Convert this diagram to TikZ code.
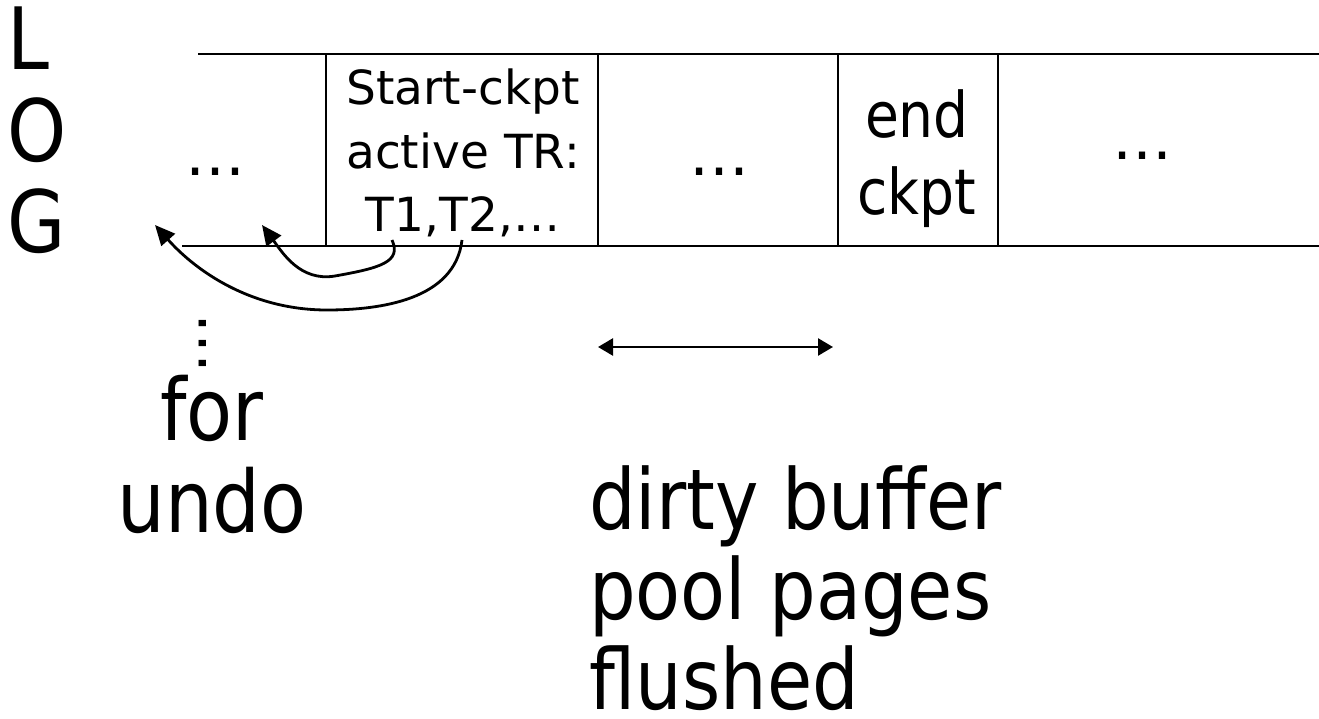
\documentclass[tikz,border=0pt]{standalone}
\usepackage{fontspec}
\setmainfont{DejaVu Sans}
\newfontfamily\narrowsans{DejaVu Sans}[FakeStretch=0.875]
\usetikzlibrary{arrows.meta}

\tikzset{
  logline/.style={line width=2pt},
  bigtxt/.style={font=\narrowsans\fontsize{86}{91.5}\selectfont, inner sep=0pt},
  celltxt/.style={font=\fontsize{47}{63.5}\selectfont, inner sep=0pt, align=center},
  endtxt/.style={font=\narrowsans\fontsize{63}{77}\selectfont, inner sep=0pt, align=center},
  dotstxt/.style={font=\fontsize{60}{60}\selectfont, inner sep=0pt},
  ptr/.style={line width=2.8pt, -{Triangle[length=20pt,width=18pt]}},
  extent/.style={line width=2.5pt, {Triangle[length=15pt,width=17pt]}-{Triangle[length=15pt,width=17pt]}},
}

\begin{document}
\begin{tikzpicture}[x=1pt, y=-1pt]
  \useasboundingbox (0,0) rectangle (1319,719);

  % log strip
  \coordinate (tl) at (198,54);
  \coordinate (tr) at (1319,54);
  \coordinate (bl) at (182,246);
  \coordinate (br) at (1319,246);
  \draw[logline] (tl) -- (tr);
  \draw[logline] (bl) -- (br);
  \foreach \xx in {326,598,838,998}
    \draw[logline] (\xx,54) -- (\xx,246);

  % labels (base anchor sits on the last line)
  \node[bigtxt, anchor=base west, align=left] (log) at (7,253) {L\\O\\G};

  \node[dotstxt, anchor=base] (d1) at (215,176) {…};
  \node[celltxt, anchor=base] (start) at (463,232) {Start-ckpt\\active TR:\\T1,T2,…};
  \node[dotstxt, anchor=base] (d3) at (719,176) {…};
  \node[endtxt, anchor=base] (endck) at (917,215) {end\\ckpt};
  \node[dotstxt, anchor=base] (d5) at (1142,160) {…};

  \node[dotstxt, anchor=base, rotate=90] (vd) at (206,343) {…};
  \node[bigtxt, anchor=base, align=center] (undo) at (212,532) {for\\undo};
  \node[bigtxt, font=\narrowsans\fontsize{84}{90}\selectfont, text depth=0pt,
        anchor=base west, align=left] (dirty) at (589,709) {dirty buffer\\pool pages\\flushed};

  % flushed range
  \coordinate (fa) at (598,347);
  \coordinate (fb) at (833,347);
  \draw[extent] (fa) -- (fb);

  % pointers back to the start of the active transactions
  \coordinate (t1) at (392,240);
  \coordinate (t2) at (462,240);
  \coordinate (u1) at (262,225);
  \coordinate (u2) at (155,225);
  \draw[ptr] (t1) .. controls (402,262) and (380,268) .. (335,276)
                  .. controls (300,282) and (282,252) .. (u1);
  \draw[ptr] (t2) .. controls (455,300) and (380,310) .. (327,310)
                  .. controls (250,310) and (195,270) .. (u2);
\end{tikzpicture}
\end{document}
